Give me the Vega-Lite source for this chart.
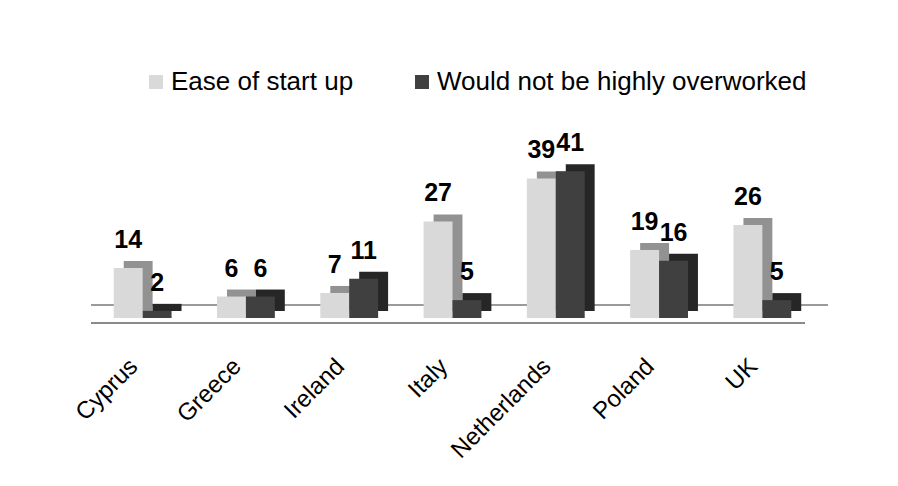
{
  "$schema": "https://vega.github.io/schema/vega-lite/v6.json",
  "width": 723,
  "height": 161,
  "autosize": {"type": "none"},
  "padding": {"left": 91, "top": 157, "right": 84, "bottom": 168},
  "background": "#ffffff",
  "config": {
    "view": {"stroke": null},
    "font": "Liberation Sans"
  },
  "data": {
    "values": [
      {"country": "Cyprus", "series": "Ease of start up", "value": 14},
      {"country": "Cyprus", "series": "Would not be highly overworked", "value": 2},
      {"country": "Greece", "series": "Ease of start up", "value": 6},
      {"country": "Greece", "series": "Would not be highly overworked", "value": 6},
      {"country": "Ireland", "series": "Ease of start up", "value": 7},
      {"country": "Ireland", "series": "Would not be highly overworked", "value": 11},
      {"country": "Italy", "series": "Ease of start up", "value": 27},
      {"country": "Italy", "series": "Would not be highly overworked", "value": 5},
      {"country": "Netherlands", "series": "Ease of start up", "value": 39},
      {"country": "Netherlands", "series": "Would not be highly overworked", "value": 41},
      {"country": "Poland", "series": "Ease of start up", "value": 19},
      {"country": "Poland", "series": "Would not be highly overworked", "value": 16},
      {"country": "UK", "series": "Ease of start up", "value": 26},
      {"country": "UK", "series": "Would not be highly overworked", "value": 5}
    ]
  },
  "encoding": {
    "x": {
      "field": "country",
      "type": "nominal",
      "sort": null,
      "scale": {"paddingInner": 0.44, "paddingOuter": 0.22},
      "axis": {
        "title": null,
        "domain": false,
        "ticks": false,
        "labelAngle": -45,
        "labelFontSize": 24,
        "labelColor": "#000000",
        "labelPadding": 36,
        "labelOffset": -17,
        "labelLimit": 300
      }
    },
    "y": {
      "field": "value",
      "type": "quantitative",
      "scale": {"domain": [0, 45]},
      "axis": null
    }
  },
  "layer": [
    {
      "mark": {"type": "rule", "color": "#9a9a9a", "strokeWidth": 2, "yOffset": -13, "xOffset": 14, "x2Offset": 16},
      "encoding": {"y": {"datum": 0}, "x": null}
    },
    {
      "mark": {"type": "rule", "color": "#8a8a8a", "strokeWidth": 2, "yOffset": 5, "xOffset": -9, "x2Offset": -6},
      "encoding": {"y": {"datum": 0}, "x": null}
    },
    {
      "mark": {"type": "bar", "yOffset": -7, "y2Offset": -7},
      "encoding": {
        "xOffset": {"field": "series", "type": "nominal", "sort": null, "scale": {"range": [10, 67.8]}},
        "color": {
          "field": "series",
          "type": "nominal",
          "scale": {"range": ["#929292", "#262626"]},
          "legend": null
        }
      }
    },
    {
      "mark": {"type": "bar"},
      "encoding": {
        "xOffset": {"field": "series", "type": "nominal", "sort": null},
        "color": {
          "field": "series",
          "type": "nominal",
          "scale": {
            "domain": ["Ease of start up", "Would not be highly overworked"],
            "range": ["#d9d9d9", "#404040"]
          },
          "legend": {
            "title": null,
            "orient": "none",
            "direction": "horizontal",
            "legendX": 52,
            "legendY": -88,
            "symbolType": "square",
            "symbolSize": 196,
            "symbolStrokeWidth": 0,
            "labelFontSize": 26,
            "labelColor": "#000000",
            "labelOffset": 2,
            "labelLimit": 500,
            "columnPadding": 55
          }
        }
      }
    },
    {
      "mark": {"type": "text", "baseline": "bottom", "dy": -15, "fontSize": 25, "fontWeight": "bold", "color": "#000000"},
      "encoding": {
        "xOffset": {"field": "series", "type": "nominal", "sort": null},
        "text": {"field": "value", "type": "quantitative"}
      }
    }
  ],
  "resolve": {"scale": {"color": "independent", "xOffset": "independent"}}
}
